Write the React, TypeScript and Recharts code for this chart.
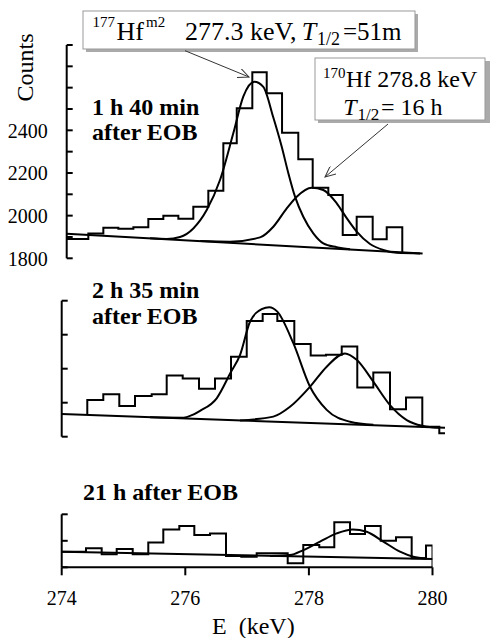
import React from 'react';
import { LineChart, Line, XAxis, YAxis } from 'recharts';

const FONT = "'Liberation Serif', 'Times New Roman', Times, serif";

// ---- panel 1: 1 h 40 min after EOB (counts) ----
const topHistE = [274.08, 274.430, 274.673, 274.916, 275.159, 275.401, 275.644, 275.887, 276.129, 276.372, 276.615, 276.832, 277.084, 277.317, 277.565, 277.828, 278.061, 278.314, 278.547, 278.773, 279.032, 279.259, 279.511];
const topHistCounts = [1891, 1916, 1943, 1938, 1946, 1984, 1999, 1985, 2042, 2117, 2339, 2503, 2672, 2574, 2389, 2264, 2131, 2097, 1909, 1995, 1889, 1945, 1823];
const topBaseE = [274.08, 279.84];
const topBaseCounts = [1915, 1822];
const topFit1E = [275.429, 275.699, 275.914, 276.129, 276.346, 276.561, 276.777, 276.939, 277.117, 277.262, 277.424, 277.560, 277.667, 277.775, 277.909, 278.071, 278.233, 278.450, 278.665];
const topFit1Counts = [1894, 1891, 1900, 1940, 2026, 2167, 2387, 2559, 2628, 2604, 2460, 2323, 2199, 2089, 1995, 1917, 1870, 1852, 1842];
const topFit2E = [276.241, 276.723, 277.209, 277.424, 277.641, 277.803, 278.045, 278.233, 278.450, 278.612, 278.773, 278.989, 279.204, 279.421, 279.798];
const topFit2Counts = [1881, 1878, 1898, 1948, 2034, 2089, 2131, 2120, 2058, 1988, 1925, 1867, 1839, 1826, 1823];
const topTicks = [1800, 1900, 2000, 2100, 2200, 2300, 2400, 2500, 2600, 2700, 2800];
const topTickLabels = [1800, 2000, 2200, 2400];

// ---- panel 2: 2 h 35 min after EOB ----
const midHistE = [274.414, 274.414, 274.673, 274.932, 275.186, 275.456, 275.699, 275.958, 276.222, 276.481, 276.740, 276.994, 277.252, 277.489, 277.764, 278.029, 278.277, 278.531, 278.783, 279.042, 279.312, 279.571, 279.835, 280.110, 280.202];
const midHistCounts = [64, 108, 125, 90, 120, 125, 180, 171, 141, 171, 235, 340, 361, 340, 273, 239, 241, 265, 145, 189, 81, 115, 29, 10, 10];
const midBaseE = [274.0, 280.202];
const midBaseCounts = [67, 26];
const midFit1E = [275.429, 275.968, 276.129, 276.238, 276.508, 276.740, 276.885, 277.047, 277.236, 277.359, 277.489, 277.748, 278.018, 278.288, 278.665, 279.042];
const midFit1Counts = [57, 56, 65, 76, 113, 191, 240, 338, 375, 381, 368, 275, 147, 79, 44, 35];
const midFit2E = [276.885, 277.424, 277.694, 278.018, 278.288, 278.584, 278.773, 279.042, 279.312, 279.583, 279.835, 280.121];
const midFit2Counts = [48, 59, 88, 147, 206, 245, 226, 162, 93, 49, 32, 26];
const midTicks = [0, 100, 200, 300, 400];

// ---- panel 3: 21 h after EOB ----
const botHistE = [274.0, 274.393, 274.647, 274.890, 275.149, 275.401, 275.644, 275.903, 276.146, 276.400, 276.659, 276.906, 277.155, 277.406, 277.657, 277.909, 278.168, 278.411, 278.665, 278.908, 279.162, 279.409, 279.663, 279.895, 280.0, 280.0];
const botHistCounts = [59, 72, 49, 69, 49, 94, 143, 156, 122, 128, 43, 40, 53, 53, 15, 84, 76, 170, 126, 156, 100, 113, 34, 82, 82, 0];
const botBaseE = [274.0, 280.0];
const botBaseCounts = [59, 31];
const botFitE = [277.371, 277.694, 277.909, 278.180, 278.450, 278.709, 278.935, 279.204, 279.474, 279.689, 279.906];
const botFitCounts = [43, 46, 65, 97, 128, 143, 134, 97, 59, 40, 33];
const botTicks = [0, 100, 200];
const energyTicks = [274, 276, 278, 280];

const pts = (es: number[], cs: number[]) => es.map((e, i) => ({ e, c: cs[i] }));

const axisLine = { stroke: '#000', strokeWidth: 2 };
const serif: React.CSSProperties = { fontFamily: FONT };

// y ticks drawn inward, optional labels on the left
const InTick = (props: any) => {
  const { x, y, payload, labels } = props;
  const show = labels && labels.includes(payload.value);
  return (
    <g>
      <line x1={x} y1={y} x2={x + 6} y2={y} stroke="#000" strokeWidth={2} />
      {show && (
        <text x={x - 19} y={y} dy="0.36em" textAnchor="end" fontSize={20} style={serif} fill="#000">
          {payload.value}
        </text>
      )}
    </g>
  );
};

const XTick = (props: any) => {
  const { x, y, payload } = props;
  return (
    <g>
      <line x1={x} y1={y} x2={x} y2={y + 8} stroke="#000" strokeWidth={2} />
      <text x={x} y={y + 37.7} textAnchor="middle" fontSize={20} style={serif} fill="#000">
        {payload.value}
      </text>
    </g>
  );
};

const lineProps = { dataKey: 'c', stroke: '#000', strokeWidth: 2, dot: false, activeDot: false, isAnimationActive: false } as const;

const abs: React.CSSProperties = { position: 'absolute', left: 0, top: 0 };

const App: React.FC = () => {
  return (
    <div style={{ position: 'absolute', left: 0, top: 0, width: 490, height: 638, background: '#fff', overflow: 'hidden', fontFamily: FONT }}>
      {/* top panel */}
      <div style={abs}>
        <LineChart width={490} height={638} margin={{ top: 45, right: 57.5, bottom: 379.7, left: 6.7 }}>
          <XAxis type="number" dataKey="e" domain={[274.08, 280]} allowDataOverflow hide />
          <YAxis
            type="number"
            domain={[1800, 2800]}
            ticks={topTicks}
            interval={0}
            allowDataOverflow
            width={60}
            tickSize={0}
            tickMargin={0}
            tickLine={false}
            axisLine={axisLine}
            tick={(p: any) => <InTick {...p} labels={topTickLabels} />}
          />
          <Line data={pts(topHistE, topHistCounts)} type="stepAfter" {...lineProps} />
          <Line data={pts(topBaseE, topBaseCounts)} type="linear" {...lineProps} />
          <Line data={pts(topFit1E, topFit1Counts)} type="monotone" {...lineProps} />
          <Line data={pts(topFit2E, topFit2Counts)} type="monotone" {...lineProps} />
        </LineChart>
      </div>

      {/* middle panel */}
      <div style={abs}>
        <LineChart width={490} height={638} margin={{ top: 300.7, right: 42.05, bottom: 201.3, left: 1.7 }}>
          <XAxis type="number" dataKey="e" domain={[274, 280.25]} allowDataOverflow hide />
          <YAxis
            type="number"
            domain={[0, 400]}
            ticks={midTicks}
            interval={0}
            allowDataOverflow
            width={60}
            tickSize={0}
            tickMargin={0}
            tickLine={false}
            axisLine={axisLine}
            tick={(p: any) => <InTick {...p} labels={[]} />}
          />
          <Line data={pts(midHistE, midHistCounts)} type="stepAfter" {...lineProps} />
          <Line data={pts(midBaseE, midBaseCounts)} type="linear" {...lineProps} />
          <Line data={pts(midFit1E, midFit1Counts)} type="monotone" {...lineProps} />
          <Line data={pts(midFit2E, midFit2Counts)} type="monotone" {...lineProps} />
        </LineChart>
      </div>

      {/* bottom panel */}
      <div style={abs}>
        <LineChart width={490} height={638} margin={{ top: 514.3, right: 57.5, bottom: 0.7, left: 1.7 }}>
          <XAxis
            type="number"
            dataKey="e"
            domain={[274, 280]}
            ticks={energyTicks}
            interval={0}
            allowDataOverflow
            height={70}
            tickSize={0}
            tickMargin={0}
            tickLine={false}
            axisLine={axisLine}
            tick={(p: any) => <XTick {...p} />}
          />
          <YAxis
            type="number"
            domain={[0, 200]}
            ticks={botTicks}
            interval={0}
            allowDataOverflow
            width={60}
            tickSize={0}
            tickMargin={0}
            tickLine={false}
            axisLine={axisLine}
            tick={(p: any) => <InTick {...p} labels={[]} />}
          />
          <Line data={pts(botHistE, botHistCounts)} type="stepAfter" {...lineProps} />
          <Line data={pts(botBaseE, botBaseCounts)} type="linear" {...lineProps} />
          <Line data={pts(botFitE, botFitCounts)} type="monotone" {...lineProps} />
        </LineChart>
      </div>

      {/* labels and annotations */}
      <svg width={490} height={638} style={{ ...abs, pointerEvents: 'none', fontFamily: FONT }}>
        <defs>
          <marker id="arrowHead" markerWidth={12} markerHeight={10} refX={11} refY={5} orient="auto" markerUnits="userSpaceOnUse">
            <path d="M0,0 L11,5 L0,10" fill="none" stroke="#333" strokeWidth={1} />
          </marker>
        </defs>

        <text transform="translate(33,67.5) rotate(-90)" textAnchor="middle" fontSize={24} fill="#000" style={serif}>Counts</text>

        <text x={92} y={115} fontSize={24} fontWeight="bold" fill="#000" style={serif}>1 h 40 min</text>
        <text x={92} y={140} fontSize={24} fontWeight="bold" fill="#000" style={serif}>after EOB</text>
        <text x={92} y={297.7} fontSize={24} fontWeight="bold" fill="#000" style={serif}>2 h 35 min</text>
        <text x={92} y={324.3} fontSize={24} fontWeight="bold" fill="#000" style={serif}>after EOB</text>
        <text x={83} y={500} fontSize={24} fontWeight="bold" fill="#000" style={serif}>21 h after EOB</text>

        <text x={212} y={634} fontSize={24} fill="#000" style={{ ...serif, whiteSpace: 'pre' }}>E  (keV)</text>

        {/* box 1 */}
        <rect x={86} y={14} width={332} height={38} fill="#aaa" />
        <rect x={83} y={11} width={332} height={38} fill="#fff" stroke="#999" strokeWidth={1} />
        <text fontSize={26} fill="#000" style={serif}>
          <tspan x={92.5} y={27} fontSize={15}>177</tspan>
          <tspan x={116.5} y={39.7}>Hf</tspan>
          <tspan x={146} y={27} fontSize={15}>m2</tspan>
          <tspan x={185} y={39.7}>277.3 keV,</tspan>
          <tspan x={301.7} y={39.7} fontStyle="italic">T</tspan>
          <tspan x={317} y={45} fontSize={18}>1/2</tspan>
          <tspan x={343} y={39.7} fontSize={25}>=51m</tspan>
        </text>

        {/* box 2 */}
        <rect x={318} y={61} width={172} height={62} fill="#aaa" />
        <rect x={315} y={58} width={170} height={62} fill="#fff" stroke="#999" strokeWidth={1} />
        <text fontSize={24} fill="#000" style={serif}>
          <tspan x={323} y={78} fontSize={15}>170</tspan>
          <tspan x={346} y={86.7}>Hf 278.8 keV</tspan>
          <tspan x={343.3} y={115} fontStyle="italic">T</tspan>
          <tspan x={357.5} y={120} fontSize={17}>1/2</tspan>
          <tspan x={381} y={115}>= 16 h</tspan>
        </text>

        <line x1={185} y1={50.7} x2={249} y2={77} stroke="#333" strokeWidth={1} markerEnd="url(#arrowHead)" />
        <line x1={388} y1={124} x2={325} y2={177} stroke="#333" strokeWidth={1} markerEnd="url(#arrowHead)" />
      </svg>
    </div>
  );
};

export default App;
